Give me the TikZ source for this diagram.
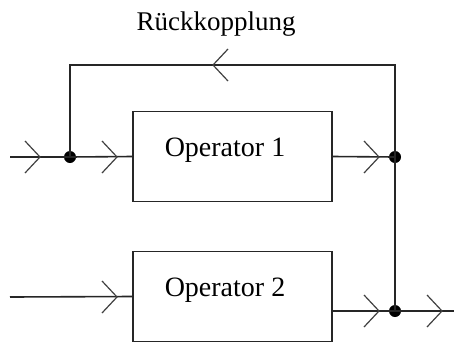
\documentclass[tikz,border=0pt]{standalone}
\usepackage{fontspec}
\setmainfont{Liberation Serif}
\begin{document}
\begin{tikzpicture}[x=1pt,y=-1pt,
  wire/.style={line width=1.6pt, draw=black!85},
  opbox/.style={draw=black!85, line width=1.6pt, fill=white, minimum width=199pt, minimum height=90pt, inner sep=0pt},
  chev/.pic={\draw[line width=1.2pt, black!75] (-15,-16) -- (0,0) -- (-15,16);},
  junction/.style={circle, fill=black, inner sep=0pt, minimum size=12pt},
  lbl/.style={font=\fontsize{28}{30}\selectfont, anchor=base, inner sep=0pt}]
\useasboundingbox[fill=white] (0,0) rectangle (454,343);
% boxes
\node[opbox] (op1) at (232.5,156.5) {};
\node[opbox] (op2) at (232.5,296.5) {};
\node[lbl] (t1) at (225,156.5) {Operator 1};
\node[lbl] (t2) at (225,296.5) {Operator 2};
\node[lbl, font=\fontsize{27}{29}\selectfont] (fbl) at (216,30) {Rückkopplung};
% points
\coordinate (in1) at (10,157);
\coordinate (in2) at (10,297);
\node[junction] (j1) at (70,157) {};
\node[junction] (j2) at (395,157) {};
\node[junction] (j3) at (395,311) {};
\coordinate (cl) at (70,65);
\coordinate (cr) at (395,65);
\coordinate (out) at (454,311);
% wires
\draw[wire] (in1) -- (j1.center) -- (op1.west);
\draw[wire] (j1.center) -- (cl) -- (cr) -- (j3.center);
\draw[wire] (op1.east) -- (j2.center);
\draw[wire] (in2) -- (op2.west);
\draw[wire] (op2.east |- j3) -- (j3.center) -- (out);
% arrowheads
\pic at (40,157) {chev};
\pic at (117,157) {chev};
\pic at (379,157) {chev};
\pic at (117,297) {chev};
\pic at (379,311) {chev};
\pic at (442,311) {chev};
\pic[rotate=180] at (213,65) {chev};
\end{tikzpicture}
\end{document}
